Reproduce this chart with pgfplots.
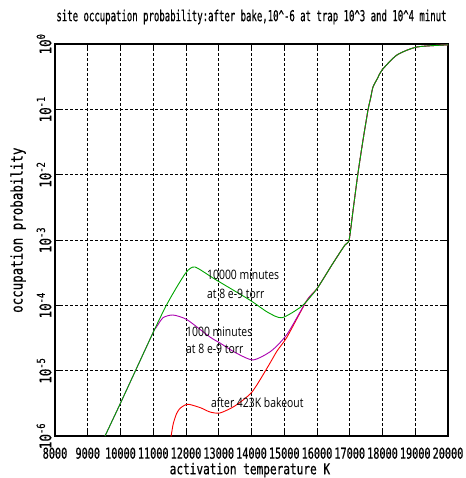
\documentclass[border=0pt]{standalone}
\usepackage{fontspec}
\usepackage{pgfplots}
\pgfplotsset{compat=1.18}
\newfontfamily\pfont[FakeStretch=0.6,FakeBold=0.5]{DejaVu Sans Mono}
\newfontfamily\xfont[FakeStretch=0.68,FakeBold=0.5]{DejaVu Sans Mono}
\newfontfamily\yfont[FakeStretch=0.78,FakeBold=0.5]{DejaVu Sans Mono}
\newfontfamily\lfont[FakeStretch=0.74,FakeBold=0.5]{DejaVu Sans Mono}
\newfontfamily\afont[FakeStretch=0.8]{Open Sans}
\definecolor{cgreen}{RGB}{0,165,0}
\definecolor{cpurple}{RGB}{170,0,175}
\definecolor{cred}{RGB}{250,0,0}
\begin{document}
\begin{tikzpicture}[x=1pt,y=1pt]
\useasboundingbox (0,0) rectangle (465,478);
\begin{axis}[
at={(55pt,42pt)}, anchor=south west,
scale only axis,
width=393pt, height=392pt,
ymode=log,
xmin=8000, xmax=20000,
ymin=1e-6, ymax=1,
xtick={8000,9000,10000,11000,12000,13000,14000,15000,16000,17000,18000,19000,20000},
xticklabels={8000,9000,10000,11000,12000,13000,14000,15000,16000,17000,18000,19000,20000},
ytick={1e-6,1e-5,1e-4,1e-3,1e-2,1e-1,1},
yticklabels={10\textsuperscript{-6},10\textsuperscript{-5},10\textsuperscript{-4},10\textsuperscript{-3},10\textsuperscript{-2},10\textsuperscript{-1},10\textsuperscript{0}},
yminorticks=false,
scaled x ticks=false,
grid=major,
major grid style={black, line width=0.8pt, dash pattern=on 3pt off 2pt},
axis line style={black, line width=1.3pt},
major tick length=5pt,
tick style={black, line width=1pt},
xticklabel style={font=\xfont\fontsize{15}{15}\selectfont, yshift=-8pt},
yticklabel style={font=\yfont\fontsize{16}{16}\selectfont, rotate=90, anchor=south},
title={site occupation probability:after bake,10\^{}-6 at trap 10\^{}3 and 10\^{}4 minut},
title style={font=\pfont\fontsize{15}{15}\selectfont, at={(axis description cs:0.5,1.043)}, anchor=base},
xlabel={activation temperature K},
xlabel style={font=\lfont\fontsize{15}{15}\selectfont, at={(axis description cs:0.496,-0.087)}, anchor=center},
ylabel={occupation probability},
ylabel style={font=\yfont\fontsize{16}{16}\selectfont, at={(axis description cs:-0.094,0.525)}, anchor=center, rotate=0},
every axis plot/.append style={line width=0.9pt, smooth, tension=0.4},
]
% after 423K bakeout
\addplot[cred] coordinates {
(11542,9.8e-7) (11613,1.56e-6) (11715,2.22e-6) (11817,2.65e-6) (11970,2.98e-6)
(12101,3.05e-6) (12450,2.7e-6) (12733,2.33e-6)
(13038,2.25e-6) (13500,2.9e-6) (14015,4.71e-6) (14500,1.15e-5) (14779,2.0e-5) (15084,3.27e-5) (15695,1.2e-4)
(16000,1.8e-4) (16470,4.27e-4) (16850,8.36e-4) (16980,1.0e-3) (17100,2.83e-3) (17252,1.06e-2) (17405,3.39e-2)
(17557,9.77e-2) (17640,0.151) (17710,0.22) (17850,0.30) (17985,0.40) (18443,0.68) (19053,0.90) (20000,0.97)
};
% 1000 minutes
\addplot[cpurple] coordinates {
(9527,1.0e-6) (10015,3.31e-6) (10992,3.80e-5) (11080,4.5e-5) (11298,6.46e-5)
(11603,7.11e-5) (12031,6.03e-5) (12733,3.27e-5) (13038,2.65e-5) (13500,1.9e-5) (14046,1.46e-5)
(14600,2.0e-5) (15084,3.6e-5) (15695,1.2e-4)
(16000,1.8e-4) (16470,4.27e-4) (16850,8.36e-4) (16980,1.0e-3) (17100,2.83e-3) (17252,1.06e-2) (17405,3.39e-2)
(17557,9.77e-2) (17640,0.151) (17710,0.22) (17850,0.30) (17985,0.40) (18443,0.68) (19053,0.90) (20000,0.97)
};
% 10000 minutes
\addplot[cgreen] coordinates {
(9527,1.0e-6) (10015,3.31e-6) (10992,3.80e-5) (11389,9.77e-5) (11725,1.93e-4)
(12021,3.27e-4) (12275,3.86e-4) (12885,2.51e-4) (13954,1.20e-4) (14500,7.8e-5) (14931,6.46e-5)
(15542,9.77e-5)
(16000,1.8e-4) (16470,4.27e-4) (16850,8.36e-4) (16980,1.0e-3) (17100,2.83e-3) (17252,1.06e-2) (17405,3.39e-2)
(17557,9.77e-2) (17640,0.151) (17710,0.22) (17850,0.30) (17985,0.40) (18443,0.68) (19053,0.90) (20000,0.97)
};
\node[anchor=west, inner sep=0pt, font=\afont\fontsize{13}{13}\selectfont] at (axis cs:12641,2.91e-4) {10000 minutes};
\node[anchor=west, inner sep=0pt, font=\afont\fontsize{13}{13}\selectfont] at (axis cs:12641,1.49e-4) {at 8 e-9 torr};
\node[anchor=west, inner sep=0pt, font=\afont\fontsize{13}{13}\selectfont] at (axis cs:12000,3.91e-5) {1000 minutes};
\node[anchor=west, inner sep=0pt, font=\afont\fontsize{13}{13}\selectfont] at (axis cs:12000,2.14e-5) {at 8 e-9 torr};
\node[anchor=west, inner sep=0pt, font=\afont\fontsize{13}{13}\selectfont] at (axis cs:12763,3.2e-6) {after 423K bakeout};
\end{axis}
\end{tikzpicture}
\end{document}
